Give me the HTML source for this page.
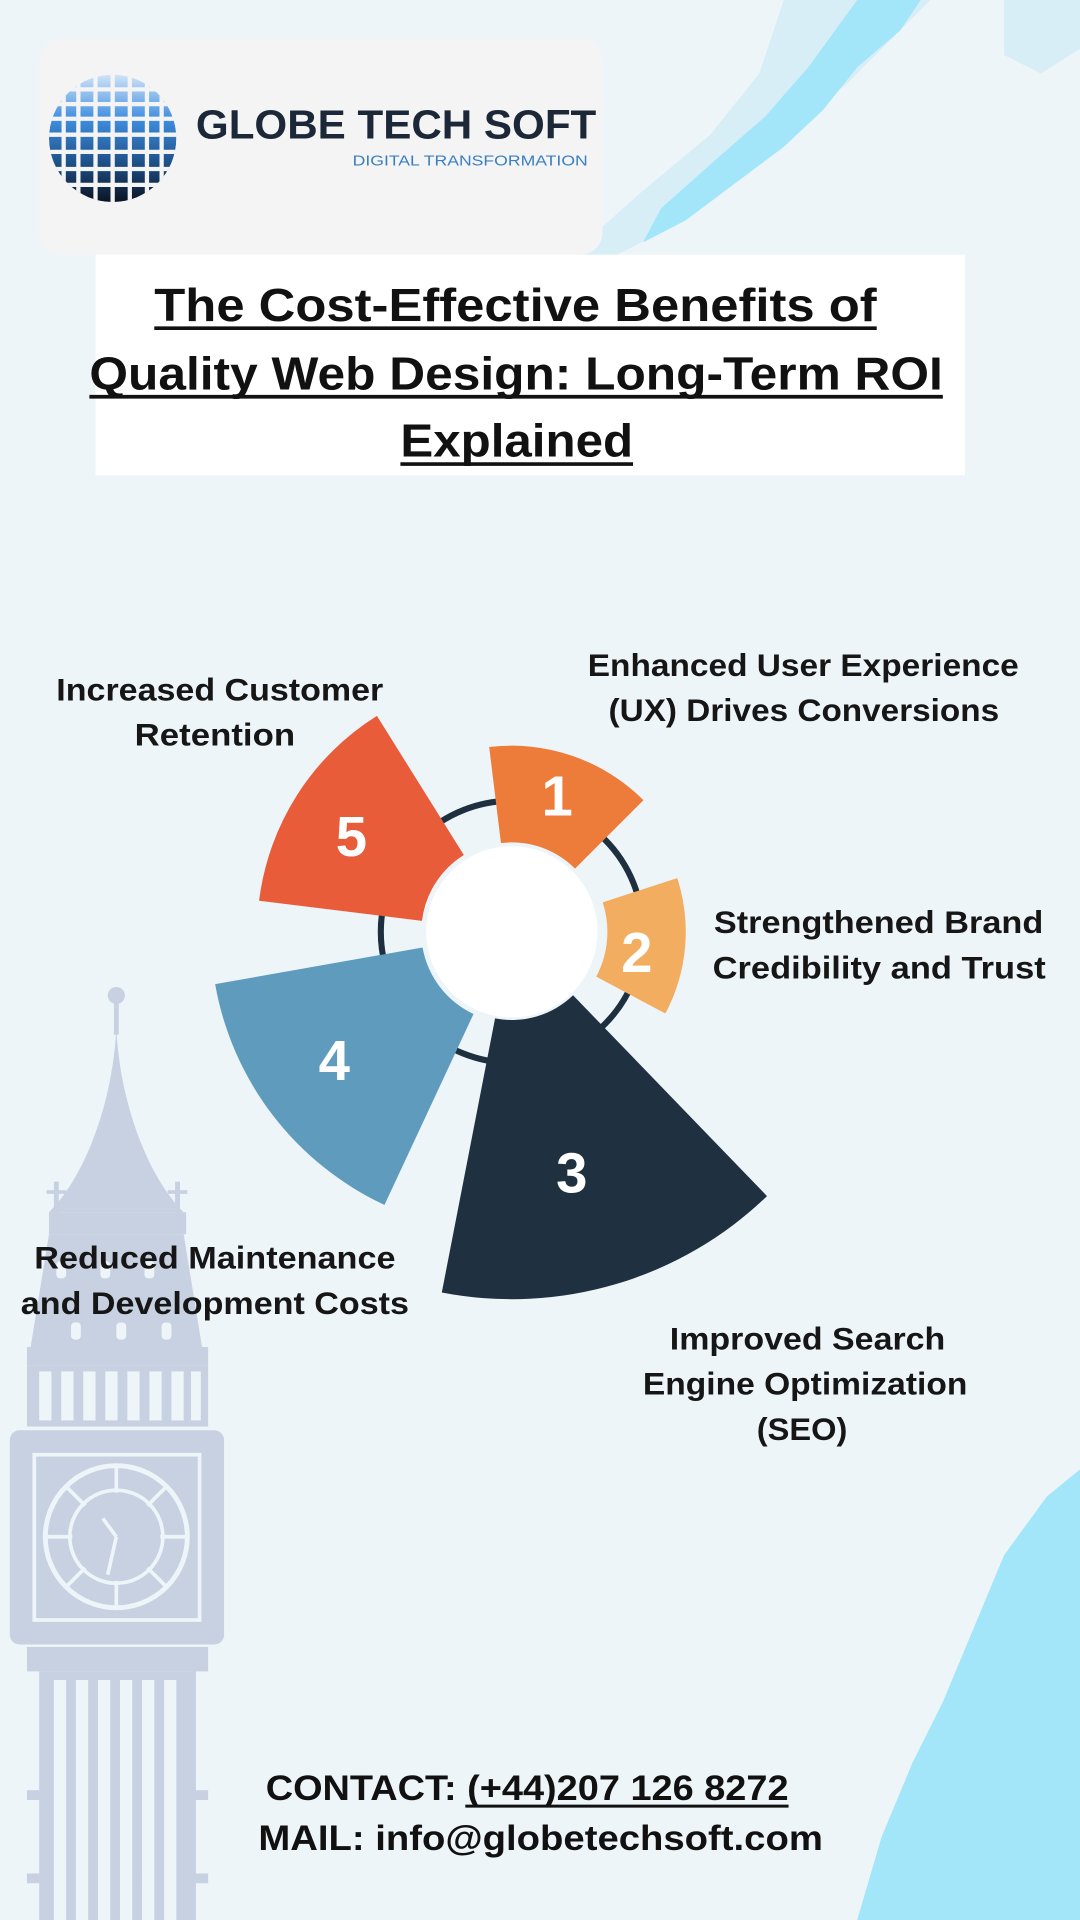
<!DOCTYPE html>
<html><head><meta charset="utf-8"><style>
html,body{margin:0;padding:0;width:1080px;height:1920px;overflow:hidden;background:#eef5f9}
svg{display:block}
</style></head><body>
<svg width="1080" height="1920" viewBox="0 0 882 1568" xmlns="http://www.w3.org/2000/svg">
<defs>
<linearGradient id="gg" x1="0" y1="0" x2="0" y2="1">
<stop offset="0" stop-color="#cfe3f7"/><stop offset="0.35" stop-color="#3f8ee0"/><stop offset="0.7" stop-color="#1d4f86"/><stop offset="1" stop-color="#0b1424"/>
</linearGradient>
<clipPath id="gc"><circle cx="92" cy="113" r="52"/></clipPath>
</defs>
<rect width="882" height="1568" fill="#eef5f9"/>
<polygon points="640,0 700,0 760,0 720,40 690,70 650,100 610,140 560,175 520,200 490,215 470,205 520,160 580,110 620,60" fill="#d8eef7"/>
<polygon points="700,0 752,0 735,25 700,55 672,90 640,120 600,150 560,180 525,198 540,170 585,130 625,95 660,55" fill="#a3e6f9"/>
<polygon points="820,0 882,0 882,40 850,60 820,45" fill="#d8eef7"/>
<polygon points="882,1200 855,1222 820,1270 795,1330 770,1390 745,1440 720,1500 700,1568 882,1568" fill="#a3e6f9"/>
<rect x="32" y="32" width="460" height="176" rx="18" fill="#f4f4f5"/>
<g clip-path="url(#gc)">
<circle cx="92" cy="113" r="52" fill="url(#gg)"/>
<g stroke="#f4f4f5" stroke-width="3.5">
<path d="M40 73H145M40 85H145M40 97H145M40 110H145M40 124H145M40 138H145M40 151H145"/>
<path d="M52 60V170M64 60V170M78 60V170M92 60V170M106 60V170M120 60V170M132 60V170"/>
</g></g>
<text x="160" y="113" font-family="Liberation Sans,sans-serif" font-weight="bold" font-size="33" fill="#1c2838" textLength="327" lengthAdjust="spacingAndGlyphs">GLOBE TECH SOFT</text>
<text x="288" y="135" font-family="Liberation Sans,sans-serif" font-size="12" fill="#3a7fc0" textLength="192" lengthAdjust="spacingAndGlyphs">DIGITAL TRANSFORMATION</text>
<rect x="78" y="208" width="710" height="180" fill="#ffffff"/>
<g font-family="Liberation Sans,sans-serif" font-weight="bold" font-size="38" fill="#111">
<text x="126" y="262" textLength="590" lengthAdjust="spacingAndGlyphs">The Cost-Effective Benefits of</text>
<text x="73" y="318" textLength="697" lengthAdjust="spacingAndGlyphs">Quality Web Design: Long-Term ROI</text>
<text x="327" y="373" textLength="190" lengthAdjust="spacingAndGlyphs">Explained</text>
</g>
<g stroke="#111" stroke-width="3"><path d="M126 268H716M73 324H770M327 379H517"/></g>
<g fill="#c7d1e1">
<circle cx="95" cy="813" r="7"/>
<rect x="93" y="815" width="4" height="30"/>
<path d="M95 840 C98 900 120 960 150 990 L40 990 C70 960 92 900 95 840Z"/>
<rect x="44" y="965" width="4" height="30"/><rect x="38" y="972" width="16" height="3"/>
<rect x="143" y="965" width="4" height="30"/><rect x="137" y="972" width="16" height="3"/>
<rect x="40" y="990" width="112" height="18"/>
<path d="M40 1008H150L165 1100H25Z"/>
<rect x="22" y="1100" width="148" height="15"/>
<rect x="22" y="1115" width="148" height="50"/>
<rect x="8" y="1168" width="175" height="175" rx="8"/>
<rect x="22" y="1345" width="148" height="20"/>
<rect x="32" y="1365" width="128" height="203"/>
<rect x="22" y="1462" width="148" height="8"/>
<rect x="22" y="1530" width="148" height="8"/>
</g>
<g fill="#eef5f9">
<rect x="46" y="1030" width="8" height="14" rx="3"/><rect x="82" y="1030" width="8" height="14" rx="3"/><rect x="118" y="1030" width="8" height="14" rx="3"/>
<rect x="58" y="1080" width="8" height="14" rx="3"/><rect x="95" y="1080" width="8" height="14" rx="3"/><rect x="132" y="1080" width="8" height="14" rx="3"/>
<rect x="32" y="1120" width="10" height="40"/><rect x="50" y="1120" width="10" height="40"/><rect x="68" y="1120" width="10" height="40"/><rect x="86" y="1120" width="10" height="40"/><rect x="104" y="1120" width="10" height="40"/><rect x="122" y="1120" width="10" height="40"/><rect x="140" y="1120" width="10" height="40"/><rect x="156" y="1120" width="8" height="40"/>
<rect x="44" y="1372" width="10" height="196"/><rect x="62" y="1372" width="10" height="196"/><rect x="80" y="1372" width="10" height="196"/><rect x="98" y="1372" width="10" height="196"/><rect x="116" y="1372" width="10" height="196"/><rect x="134" y="1372" width="10" height="196"/>
</g>
<rect x="28" y="1188" width="135" height="135" fill="none" stroke="#eef5f9" stroke-width="3"/>
<circle cx="95" cy="1255" r="58" fill="#c7d1e1" stroke="#eef5f9" stroke-width="4"/>
<circle cx="95" cy="1255" r="38" fill="none" stroke="#eef5f9" stroke-width="3"/>
<g stroke="#eef5f9" stroke-width="3"><path d="M95 1197V1313M37 1255H153M54 1214L136 1296M136 1214L54 1296"/></g>
<circle cx="95" cy="1255" r="36" fill="#c7d1e1"/>
<g stroke="#eef5f9" stroke-width="3"><path d="M95 1255L84 1240M95 1255L88 1286"/></g>
<circle cx="418" cy="761" r="107" fill="none" stroke="#1e3040" stroke-width="5"/>
<circle cx="418" cy="761" r="70" fill="#ffffff"/>
<path d="M211.6,735.6 A208,208 0 0 1 307.8,584.6 L378.8,698.2 A74,74 0 0 0 344.6,752 Z" fill="#e85c3a"/>
<path d="M399.5,610.1 A152,152 0 0 1 525.5,653.5 L469.6,709.4 A73,73 0 0 0 409.1,688.5 Z" fill="#ed7c3b"/>
<path d="M553.1,717.1 A142,142 0 0 1 543.4,827.7 L486.9,797.6 A78,78 0 0 0 492.2,736.9 Z" fill="#f2ad60"/>
<path d="M626.4,976.8 A300,300 0 0 1 360.8,1055.5 L404.3,831.7 A72,72 0 0 0 468,812.8 Z" fill="#1f3140"/>
<path d="M314,984 A246,246 0 0 1 175.7,803.7 L345.1,773.8 A74,74 0 0 0 386.7,828.1 Z" fill="#5e9bbd"/>
<g font-family="Liberation Sans,sans-serif" font-weight="bold" font-size="46" fill="#fff" text-anchor="middle">
<text x="455" y="666">1</text><text x="520" y="794">2</text><text x="467" y="974">3</text><text x="273" y="882">4</text><text x="287" y="699">5</text>
</g>
<g font-family="Liberation Sans,sans-serif" font-weight="bold" font-size="26" fill="#161616" lengthAdjust="spacingAndGlyphs">
<text x="480" y="552" textLength="352" lengthAdjust="spacingAndGlyphs">Enhanced User Experience</text>
<text x="497" y="589" textLength="319" lengthAdjust="spacingAndGlyphs">(UX) Drives Conversions</text>
<text x="46" y="572" textLength="267" lengthAdjust="spacingAndGlyphs">Increased Customer</text>
<text x="110" y="609" textLength="131" lengthAdjust="spacingAndGlyphs">Retention</text>
<text x="583" y="762" textLength="269" lengthAdjust="spacingAndGlyphs">Strengthened Brand</text>
<text x="582" y="799" textLength="272" lengthAdjust="spacingAndGlyphs">Credibility and Trust</text>
<text x="28" y="1036" textLength="295" lengthAdjust="spacingAndGlyphs">Reduced Maintenance</text>
<text x="17" y="1073" textLength="317" lengthAdjust="spacingAndGlyphs">and Development Costs</text>
<text x="547" y="1102" textLength="225" lengthAdjust="spacingAndGlyphs">Improved Search</text>
<text x="525" y="1139" textLength="265" lengthAdjust="spacingAndGlyphs">Engine Optimization</text>
<text x="618" y="1176" textLength="74" lengthAdjust="spacingAndGlyphs">(SEO)</text>
</g>
<g font-family="Liberation Sans,sans-serif" font-weight="bold" font-size="29" fill="#111">
<text x="217" y="1470" textLength="427" lengthAdjust="spacingAndGlyphs">CONTACT: (+44)207 126 8272</text>
<text x="211" y="1511" textLength="461" lengthAdjust="spacingAndGlyphs">MAIL: info@globetechsoft.com</text>
</g>
<path d="M380 1475H644" stroke="#111" stroke-width="2.5"/>
</svg>
</body></html>
